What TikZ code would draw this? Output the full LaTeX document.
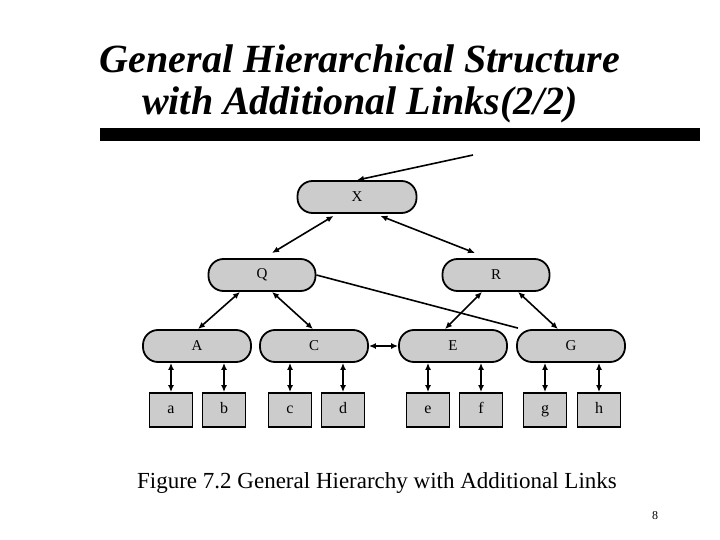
\documentclass[tikz,border=0pt]{standalone}
\usepackage{fontspec}
\setmainfont{Liberation Serif}
\usetikzlibrary{arrows.meta}

\tikzset{
	inner/.style = {draw, line width = 1.8pt, fill = black!20, rounded corners = 15pt,
		minimum height = 32pt, inner sep = 0pt, font = \fontsize{15}{15}\selectfont},
	leaf/.style = {draw, line width = 1.8pt, fill = black!20, minimum width = 43pt,
		minimum height = 34pt, inner sep = 0pt, text height = 10pt, text depth = 3pt,
		font = \fontsize{16}{16}\selectfont},
	link/.style = {line width = 1.6pt, {Latex[length = 7pt, width = 6pt]}-{Latex[length = 7pt, width = 6pt]}}
}

\begin{document}
\begin{tikzpicture}[x = 1pt, y = -1pt, > = {Latex[length = 7pt, width = 6pt]}]

	\useasboundingbox (0, 0) rectangle (720, 540);

	% Title + bar

	\node [font = \fontsize{40}{42}\selectfont\bfseries\itshape, align = center] (title) at (360, 84)
		{General Hierarchical Structure\\with Additional Links(2/2)};
	\fill (100, 128) rectangle (700, 141);

	% Inner nodes

	\node [inner, minimum width = 119pt] (X) at (357, 197) {X};
	\node [inner, minimum width = 107pt] (Q) at (262, 275) {Q};
	\node [inner, minimum width = 107pt] (R) at (496, 275) {R};
	\node [inner, minimum width = 108pt] (A) at (197, 346) {A};
	\node [inner, minimum width = 108pt] (C) at (314, 346) {C};
	\node [inner, minimum width = 108pt] (E) at (453, 346) {E};
	\node [inner, minimum width = 108pt] (G) at (571, 346) {G};

	% Leaves

	\foreach \name/\x/\up in {a/171/A, b/224/A, c/290/C, d/343/C, e/428/E, f/481/E, g/545/G, h/599/G} {
		\node [leaf] (\name) at (\x, 410) {\name};
		\draw [link] (\up.south -| \name) -- (\name.north);
	}

	% Tree links

	\coordinate (in) at (473, 155);
	\draw [line width = 1.6pt, ->] (in) -- (X.north);
	\draw [link] (X.south west) ++(37, 2) coordinate (xq) -- (272, 253) coordinate (qx);
	\draw [link] (X.south east) ++(-37, 2) coordinate (xr) -- (475, 253) coordinate (rx);
	\draw [link] (Q.south) ++(-22, 0) -- ([xshift = 1pt] A.north);
	\draw [link] (Q.south) ++(10, 0) -- ([xshift = -1pt] C.north);
	\draw [link] (R.south) ++(-14, 0) -- ([xshift = -8pt] E.north);
	\draw [link] (R.south) ++(22, 0) -- ([xshift = -13pt] G.north);
	\draw [link] (C.east) -- (E.west);

	% Additional link

	\draw [line width = 1.6pt] (Q.east) -- ([xshift = -53pt, yshift = 1pt] G.north);

	% Caption + page number

	\node [font = \fontsize{23}{23}\selectfont] (caption) at (377, 483)
		{Figure 7.2 General Hierarchy with Additional Links};
	\node [font = \fontsize{12}{12}\selectfont] (page) at (655, 516) {8};

\end{tikzpicture}
\end{document}
